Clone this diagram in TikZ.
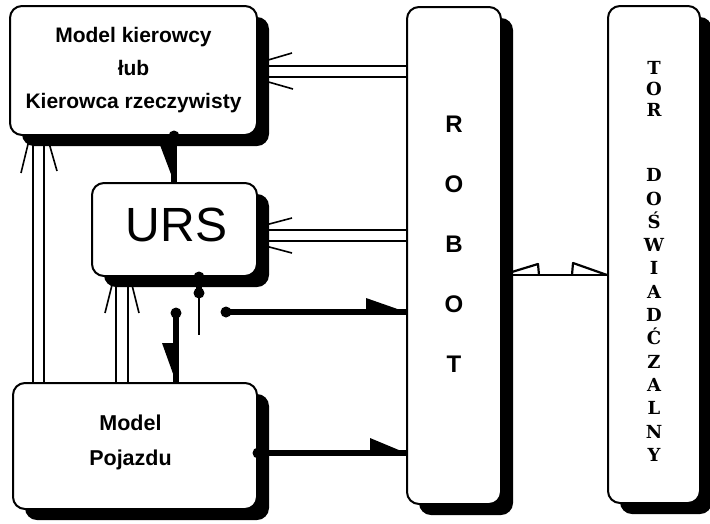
\documentclass[tikz,border=0pt]{standalone}
\usepackage{fontspec}
\setmainfont{Liberation Sans}
\newfontfamily\torfont{DejaVu Serif}
\usetikzlibrary{shadows}
\pgfdeclarelayer{wires}
\pgfsetlayers{wires,main}

\tikzset{
  blk/.style={draw, line width=2pt, rounded corners=12pt, fill=white,
    inner sep=0pt, align=center,
    drop shadow={shadow xshift=12pt, shadow yshift=-11pt, opacity=1, fill=black}},
  dbl/.style={line width=1.6pt},
  wing/.style={line width=1.6pt},
  bus/.style={line width=5.5pt},
  lever/.style={line width=1.8pt},
  link/.style={line width=2.2pt, line join=round},
  dot/.style={circle, fill=black, inner sep=0pt, minimum size=11pt},
  lbl/.style={font=\bfseries\fontsize{21}{33}\selectfont},
}

\begin{document}
\begin{tikzpicture}[x=1pt, y=-1pt]
\useasboundingbox (0,0) rectangle (710,523);

% blocks
\node[blk, lbl, minimum width=247pt, minimum height=129pt] (kier) at (133.5,70.5)
  {Model kierowcy\\łub\\Kierowca rzeczywisty};
\node[blk, minimum width=165pt, minimum height=93pt] (urs) at (174.5,229.5) {};
\node[font=\fontsize{48}{48}\selectfont, inner sep=0pt] (ursl) at (176.5,224.5) {URS};
\node[blk, minimum width=244pt, minimum height=126pt] (poj) at (135,446) {};
\node[lbl, align=center, inner sep=0pt, font=\bfseries\fontsize{21.5}{35}\selectfont] (pojl) at (130.5,442.5) {Model\\Pojazdu};
\node[blk, minimum width=94pt, minimum height=497pt] (robot) at (454,255.5) {};
\node[align=center, inner sep=0pt, font=\bfseries\fontsize{24}{60}\selectfont] (robotl) at (454,244) {R\\O\\B\\O\\T};
\node[blk, minimum width=92pt, minimum height=497pt] (tor) at (654,254.5) {};
\node[align=center, inner sep=0pt, font=\torfont\bfseries\fontsize{18}{21}\selectfont] (torl1) at (654,89) {T\\O\\R};
\node[align=center, inner sep=0pt, font=\torfont\bfseries\fontsize{18}{23.3}\selectfont] (torl2) at (654,315) {D\\O\\Ś\\W\\I\\A\\D\\Ć\\Z\\A\\L\\N\\Y};

% double connectors, hidden under the block shadows
\begin{pgfonlayer}{wires}
  % ROBOT -> Model kierowcy
  \draw[dbl] (kier.east |- 0,66) -- (robot.west |- 0,66);
  \draw[dbl] (kier.east |- 0,77) -- (robot.west |- 0,77);
  \draw[wing] (kier.east |- 0,63) -- ++(34,-10);
  \draw[wing] (kier.east |- 0,79) -- ++(35,10);
  % ROBOT -> URS
  \draw[dbl] (urs.east |- 0,230) -- (robot.west |- 0,230);
  \draw[dbl] (urs.east |- 0,241) -- (robot.west |- 0,241);
  \draw[wing] (urs.east |- 0,227) -- ++(34,-9);
  \draw[wing] (urs.east |- 0,244) -- ++(34,9);
  % Model Pojazdu -> Model kierowcy
  \draw[dbl] (33,0 |- poj.north) -- (33,0 |- kier.south);
  \draw[dbl] (44,0 |- poj.north) -- (44,0 |- kier.south);
  \draw[wing] (30,0 |- kier.south) -- ++(-9,37);
  \draw[wing] (47,0 |- kier.south) -- ++(10,35);
  % Model Pojazdu -> URS
  \draw[dbl] (116,0 |- poj.north) -- (116,0 |- urs.south);
  \draw[dbl] (128,0 |- poj.north) -- (128,0 |- urs.south);
  \draw[wing] (114,0 |- urs.south) -- ++(-9,36);
  \draw[wing] (130,0 |- urs.south) -- ++(9,36);
  % ROBOT <-> TOR
  \draw[link] (robot.east |- 0,275) -- (tor.west |- 0,275);
  \draw[link] (robot.east |- 0,275) -- ++(36,-11) -- ++(1,11);
  \draw[link] (tor.west |- 0,275) -- ++(-34,-12) -- ++(-1,12);
\end{pgfonlayer}

% Model kierowcy -> URS
\node[dot] (k1) at (174,0 |- kier.south) {};
\draw[bus] (k1.center) -- (k1.center |- urs.north) coordinate (k1e);
\fill (k1e) -- ++(-14,-37) -- ++(16,0) -- cycle;

% switch on the URS output
\node[dot] (s0) at (199,0 |- urs.south) {};
\node[dot] (s1) at (199,293) {};
\draw[bus] (s0.center) -- (s1.center);
\draw[lever] (s1.center) -- ++(0,42);

% switch contact -> Model Pojazdu
\node[dot] (c1) at (176,313) {};
\draw[bus] (c1.center) -- (c1.center |- poj.north) coordinate (c1e);
\fill (c1e) -- ++(-14,-39) -- ++(16,0) -- cycle;

% switch contact -> ROBOT
\node[dot] (c2) at (226,312) {};
\draw[bus] (c2.center) -- (c2.center -| robot.west) coordinate (c2e);
\fill (c2e) -- ++(-40,-14) -- ++(0,16) -- cycle;

% Model Pojazdu -> ROBOT
\node[dot] (p1) at (poj.east |- 0,453) {};
\draw[bus] (p1.center) -- (p1.center -| robot.west) coordinate (p1e);
\fill (p1e) -- ++(-36,-15) -- ++(0,17) -- cycle;
\end{tikzpicture}
\end{document}
